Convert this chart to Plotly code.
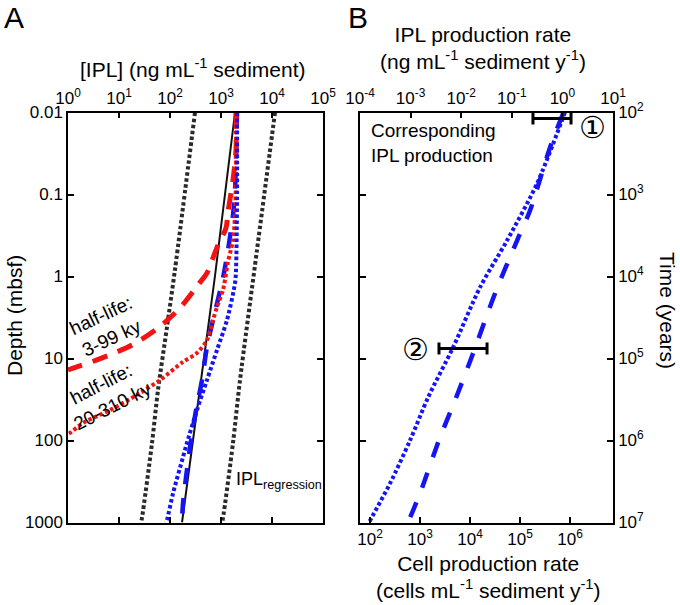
import plotly.graph_objects as go

W, H = 680, 605
FONT = "Liberation Sans, Arial, sans-serif"

# ---------------- Panel A data: depth (mbsf) vs [IPL] (ng mL-1 sediment) ----------------
reg_depth = [0.01, 1, 100, 1000]
reg_ipl = [1883, 760, 282, 172]

lo_depth = [0.01, 0.83, 4.13, 24.2, 107, 881, 1000]
lo_ipl = [309, 125, 87.3, 58.2, 44.4, 28.2, 27.0]

hi_depth = [0.01, 0.475, 18.3, 107, 881, 1000]
hi_ipl = [11450, 5080, 2360, 1718, 1094, 1047]

red_dash_depth = [0.01, 0.0286, 0.0665, 0.163, 0.256, 0.413, 0.594, 0.906, 1.27, 2.42, 4.25, 6.84, 10.4, 13.1, 13.8]
red_dash_ipl = [1968, 1968, 1718, 1371, 1253, 873, 697, 531, 354, 157, 58.2, 18.0, 3.71, 1.25, 1.0]

red_dot_depth = [0.01, 0.0502, 0.178, 0.359, 0.665, 1.46, 2.35, 3.39, 5.94, 8.57, 11.0, 18.3, 26.4, 42.5, 61.2, 81.1, 83.4]
red_dot_ipl = [1968, 1968, 1883, 1718, 1371, 1094, 835, 697, 531, 338, 180, 63.7, 25.8, 6.66, 1.97, 1.09, 1.0]

blue_dash_depth = [0.01, 0.0881, 0.178, 0.475, 1.04, 3.39, 7.24, 18.3, 42.5, 120, 578, 1000]
blue_dash_ipl = [2060, 1883, 1718, 1371, 1094, 697, 531, 424, 324, 247, 180, 172]

blue_dot_depth = [0.01, 0.117, 0.834, 1.20, 3.39, 7.87, 18.3, 42.5, 107, 159, 437, 933, 1000]
blue_dot_ipl = [2060, 2060, 1968, 1883, 1312, 835, 531, 338, 215, 180, 115, 87.3, 83.5]

a_xticks = [1, 10, 100, 1e3, 1e4, 1e5]
a_xlabels = ["10<sup>0</sup>", "10<sup>1</sup>", "10<sup>2</sup>", "10<sup>3</sup>", "10<sup>4</sup>", "10<sup>5</sup>"]
a_yticks = [0.01, 0.1, 1, 10, 100, 1000]
a_ylabels = ["0.01", "0.1", "1", "10", "100", "1000"]

# ---------------- Panel B data: time (years) vs IPL production rate ----------------
b_dot_time = [100, 735, 3640, 13600, 73500, 299000, 1.0e6, 3.34e6, 9.46e6, 1e7]
b_dot_rate = [1.12, 0.315, 0.0804, 0.0235, 0.00689, 0.00221, 0.000973, 0.000392, 0.000158, 0.000151]
b_dash_time = [103, 267, 1570, 3640, 16100, 86900, 325000, 919000, 4.43e6, 1e7]
b_dash_rate = [1.03, 0.569, 0.229, 0.127, 0.0466, 0.0171, 0.00754, 0.00381, 0.00153, 0.000889]

bar_time = [118, 75500]
bar_center = [0.62, 0.011]
bar_low = [0.262, 0.00364]
bar_high = [1.48, 0.0324]
bar_labels = ["①", "②"]

b_top_ticks = [1e-4, 1e-3, 1e-2, 1e-1, 1, 10]
b_top_labels = ["10<sup>-4</sup>", "10<sup>-3</sup>", "10<sup>-2</sup>", "10<sup>-1</sup>", "10<sup>0</sup>", "10<sup>1</sup>"]
b_bot_ticks = [1e2, 1e3, 1e4, 1e5, 1e6]
b_bot_labels = ["10<sup>2</sup>", "10<sup>3</sup>", "10<sup>4</sup>", "10<sup>5</sup>", "10<sup>6</sup>"]
b_y_ticks = [1e2, 1e3, 1e4, 1e5, 1e6, 1e7]
b_y_labels = ["10<sup>2</sup>", "10<sup>3</sup>", "10<sup>4</sup>", "10<sup>5</sup>", "10<sup>6</sup>", "10<sup>7</sup>"]

RED = "#f01414"
BLUE = "#1414f5"
GREY = "#2a2a2a"
DOT = "3.5px,2.5px"

fig = go.Figure()

def add_line(x, y, color, width, dash, xa="x", ya="y", shape="spline"):
    fig.add_trace(go.Scatter(x=x, y=y, mode="lines", xaxis=xa, yaxis=ya,
                             line=dict(color=color, width=width, dash=dash, shape=shape, smoothing=0.8),
                             showlegend=False, hoverinfo="skip"))

# Panel A
add_line(lo_ipl, lo_depth, GREY, 4, DOT)
add_line(hi_ipl, hi_depth, GREY, 4, DOT)
add_line(reg_ipl, reg_depth, "#111111", 2, "solid", shape="linear")
add_line(blue_dash_ipl, blue_dash_depth, BLUE, 4.5, "16px,14px")
add_line(red_dash_ipl, red_dash_depth, RED, 5, "16px,11px")
add_line(red_dot_ipl, red_dot_depth, RED, 4, DOT)
add_line(blue_dot_ipl, blue_dot_depth, BLUE, 4, DOT)

# Panel B (top IPL-production axis x2, right time axis y2)
add_line(b_dot_rate, b_dot_time, BLUE, 4, DOT, "x2", "y2")
add_line(b_dash_rate, b_dash_time, BLUE, 4.5, "16px,16px", "x2", "y2")
fig.add_trace(go.Scatter(
    x=bar_center, y=bar_time, mode="markers", xaxis="x2", yaxis="y2",
    marker=dict(size=1, color="rgba(0,0,0,0)"),
    error_x=dict(type="data", symmetric=False,
                 array=[h - c for h, c in zip(bar_high, bar_center)],
                 arrayminus=[c - l for c, l in zip(bar_center, bar_low)],
                 color="black", thickness=3, width=6),
    showlegend=False, hoverinfo="skip"))
# empty trace registering the bottom cell-production axis
fig.add_trace(go.Scatter(x=[], y=[], xaxis="x3", yaxis="y2", mode="lines",
                         showlegend=False, hoverinfo="skip"))

def px2x(px):
    return px / W

def py2y(py):
    return 1 - py / H

common = dict(showline=True, linecolor="black", linewidth=1.5, ticks="inside", ticklen=6,
              tickwidth=1.5, tickcolor="black", showgrid=False, zeroline=False, automargin=False,
              tickfont=dict(family=FONT, size=17, color="black"), tickmode="array")

ydom = [py2y(522.5), py2y(112.5)]
bdom = [px2x(360), px2x(613)]

fig.update_layout(
    template="none",
    width=W, height=H, margin=dict(l=0, r=0, t=0, b=0, pad=0, autoexpand=False),
    paper_bgcolor="white", plot_bgcolor="rgba(0,0,0,0)",
    font=dict(family=FONT, color="black"),
    xaxis=dict(common, type="log", range=[0, 5], domain=[px2x(68), px2x(323)], side="top",
               anchor="y", mirror="ticks", tickvals=a_xticks, ticktext=a_xlabels),
    yaxis=dict(common, type="log", range=[3, -2], domain=ydom, anchor="x", mirror="ticks",
               tickvals=a_yticks, ticktext=a_ylabels),
    xaxis2=dict(common, type="log", range=[-4, 1], domain=bdom, side="top", anchor="y2",
                tickvals=b_top_ticks, ticktext=b_top_labels),
    xaxis3=dict(common, type="log", range=[1.8, 6.86], domain=bdom, side="bottom", anchor="y2",
                tickvals=b_bot_ticks, ticktext=b_bot_labels),
    yaxis2=dict(common, type="log", range=[7, 2], domain=ydom, anchor="x2", side="right",
                mirror="ticks", tickvals=b_y_ticks, ticktext=b_y_labels),
)

def ann(text, x, y, size, angle=0, xanchor="center", align="center", family=FONT):
    fig.add_annotation(text=text, x=px2x(x), y=py2y(y), xref="paper", yref="paper",
                       showarrow=False, textangle=angle, xanchor=xanchor, yanchor="middle",
                       align=align, font=dict(family=family, size=size, color="black"))

ann("A", 14, 17, 30)
ann("B", 358, 17, 30)
ann("[IPL] (ng mL<sup>-1</sup> sediment)", 193, 68, 21)
ann("Depth (mbsf)", 14, 316, 21, angle=-90)
ann("IPL production rate<br>(ng mL<sup>-1</sup> sediment y<sup>-1</sup>)", 483, 48, 21)
ann("Cell production rate<br>(cells mL<sup>-1</sup> sediment y<sup>-1</sup>)", 488, 577, 21)
ann("Time (years)", 668, 310, 21, angle=90)
ann("half-life:<br>3-99 ky", 106, 327, 19, angle=-25)
ann("half-life:<br>20-310 ky", 107, 395, 19, angle=-27)
ann("IPL<sub>regression</sub>", 234, 480, 18, xanchor="left")
ann("Corresponding<br>IPL production", 369, 143, 19, xanchor="left", align="left")
ann(bar_labels[0], 592, 127, 30, family="DejaVu Sans, Noto Sans CJK JP")
ann(bar_labels[1], 415, 349, 30, family="DejaVu Sans, Noto Sans CJK JP")

fig.write_html("out.html", config={"displayModeBar": False},
               post_script="document.body.style.margin='0';")
